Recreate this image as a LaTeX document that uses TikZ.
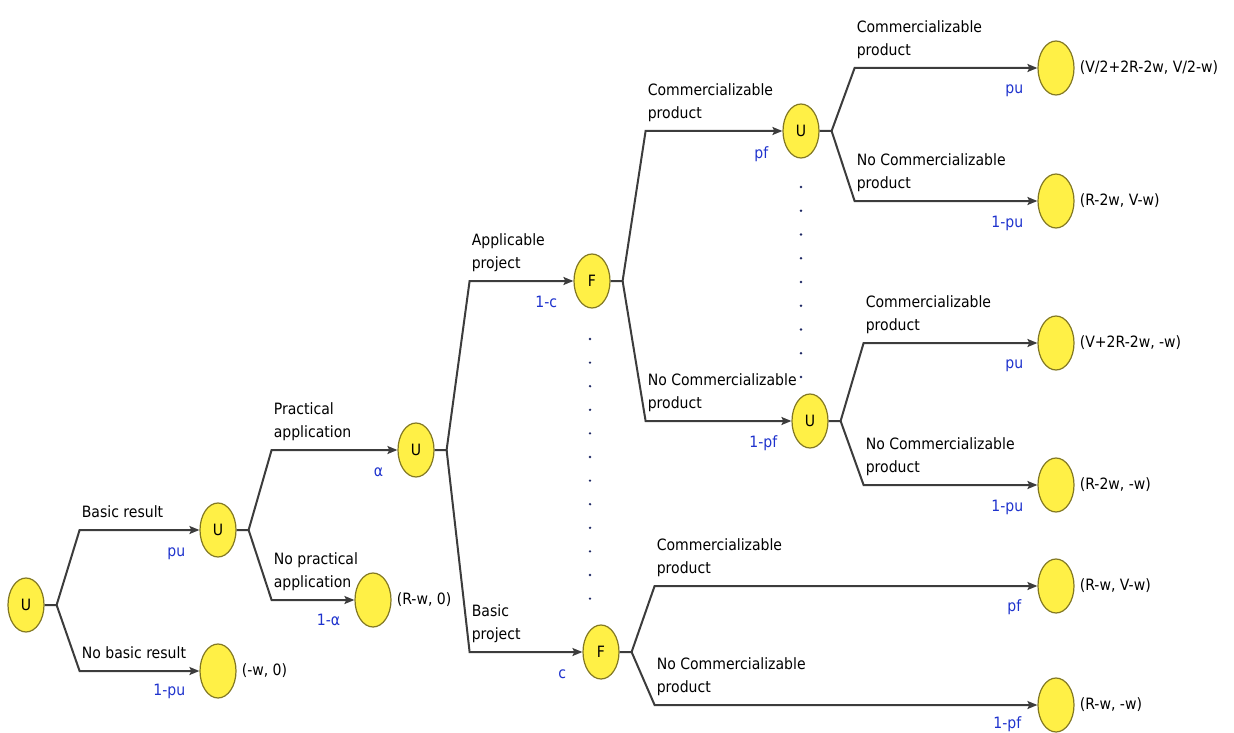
\documentclass[tikz,border=0pt]{standalone}
\usepackage{fontspec}
\setmainfont{DejaVu Sans}[FakeStretch=0.9]
\usetikzlibrary{arrows.meta,shapes.geometric}
\definecolor{nodefill}{RGB}{255,240,70}
\definecolor{nodeborder}{RGB}{130,120,35}
\definecolor{linecol}{RGB}{60,60,60}
\definecolor{problue}{RGB}{30,50,205}
\definecolor{dotcol}{RGB}{30,40,100}
\begin{document}
\begin{tikzpicture}[x=1pt,y=-1pt,
  font=\fontsize{15.6}{23}\selectfont,
  dnode/.style={ellipse,draw=nodeborder,fill=nodefill,line width=1.2pt,
    minimum width=36pt,minimum height=54pt,inner sep=0pt},
  edge/.style={draw=linecol,line width=2pt,
    -{Stealth[length=10pt,width=8pt,inset=2pt]}},
  lab/.style={anchor=south west,align=left,inner sep=0pt,
    execute at end node={\vphantom{p}}},
  prob/.style={anchor=base east,text=problue,inner sep=0pt},
  pay/.style={anchor=west,inner sep=0pt},
  dotmark/.style={fill=dotcol}]
\useasboundingbox (0,0) rectangle (1234,733);
% nodes
\node[dnode] (U0) at (26,605) {U};
\node[dnode] (U1) at (218,530) {U};
\node[dnode] (L1) at (218,671) {};
\node[dnode] (U2) at (416,450) {U};
\node[dnode] (L2) at (373,600) {};
\node[dnode] (F1) at (592,281) {F};
\node[dnode] (F2) at (601,652) {F};
\node[dnode] (U3) at (801,131) {U};
\node[dnode] (U4) at (810,421) {U};
\node[dnode] (L3) at (1056,68) {};
\node[dnode] (L4) at (1056,201) {};
\node[dnode] (L5) at (1056,343) {};
\node[dnode] (L6) at (1056,485) {};
\node[dnode] (L7) at (1056,586) {};
\node[dnode] (L8) at (1056,705) {};
% payoffs
\node[pay] (P1) at ([xshift=5pt]L1.east) {(-w, 0)};
\node[pay] (P2) at ([xshift=5pt]L2.east) {(R-w, 0)};
\node[pay] (P3) at ([xshift=5pt]L3.east) {(V/2+2R-2w, V/2-w)};
\node[pay] (P4) at ([xshift=5pt]L4.east) {(R-2w, V-w)};
\node[pay] (P5) at ([xshift=5pt]L5.east) {(V+2R-2w, -w)};
\node[pay] (P6) at ([xshift=5pt]L6.east) {(R-2w, -w)};
\node[pay] (P7) at ([xshift=5pt]L7.east) {(R-w, V-w)};
\node[pay] (P8) at ([xshift=5pt]L8.east) {(R-w, -w)};
% junction and branch coordinates
\foreach \n in {U0,U1,U2,F1,F2,U3,U4}{
  \coordinate (j\n) at ([xshift=12pt]\n.east);
  \coordinate (b\n) at ([xshift=35pt]\n.east);
}
% connectors
\draw[edge] (U0.east) -- (jU0) -- (bU0 |- U1) -- (U1.west);
\draw[edge] (jU0) -- (bU0 |- L1) -- (L1.west);
\draw[edge] (U1.east) -- (jU1) -- (bU1 |- U2) -- (U2.west);
\draw[edge] (jU1) -- (bU1 |- L2) -- (L2.west);
\draw[edge] (U2.east) -- (jU2) -- (bU2 |- F1) -- (F1.west);
\draw[edge] (jU2) -- (bU2 |- F2) -- (F2.west);
\draw[edge] (F1.east) -- (jF1) -- (bF1 |- U3) -- (U3.west);
\draw[edge] (jF1) -- (bF1 |- U4) -- (U4.west);
\draw[edge] (F2.east) -- (jF2) -- (bF2 |- L7) -- (L7.west);
\draw[edge] (jF2) -- (bF2 |- L8) -- (L8.west);
\draw[edge] (U3.east) -- (jU3) -- (bU3 |- L3) -- (L3.west);
\draw[edge] (jU3) -- (bU3 |- L4) -- (L4.west);
\draw[edge] (U4.east) -- (jU4) -- (bU4 |- L5) -- (L5.west);
\draw[edge] (jU4) -- (bU4 |- L6) -- (L6.west);
% branch labels
\path (bU0 |- U1) ++(2,-9.5) node[lab] {Basic result};
\path (bU0 |- L1) ++(2,-9.5) node[lab] {No basic result};
\path (bU1 |- U2) ++(2,-9.5) node[lab] {Practical\\application};
\path (bU1 |- L2) ++(2,-9.5) node[lab] {No practical\\application};
\path (bU2 |- F1) ++(2,-9.5) node[lab] {Applicable\\project};
\path (bU2 |- F2) ++(2,-9.5) node[lab] {Basic\\project};
\path (bF1 |- U3) ++(2,-9.5) node[lab] {Commercializable\\product};
\path (bF1 |- U4) ++(2,-9.5) node[lab] {No Commercializable\\product};
\path (bF2 |- L7) ++(2,-9.5) node[lab] {Commercializable\\product};
\path (bF2 |- L8) ++(2,-9.5) node[lab] {No Commercializable\\product};
\path (bU3 |- L3) ++(2,-9.5) node[lab] {Commercializable\\product};
\path (bU3 |- L4) ++(2,-9.5) node[lab] {No Commercializable\\product};
\path (bU4 |- L5) ++(2,-9.5) node[lab] {Commercializable\\product};
\path (bU4 |- L6) ++(2,-9.5) node[lab] {No Commercializable\\product};
% probabilities
\path (U1.west) ++(-14,26) node[prob] {pu};
\path (L1.west) ++(-14,24) node[prob] {1-pu};
\path (U2.west) ++(-14,26) node[prob] {α};
\path (L2.west) ++(-14,25) node[prob] {1-α};
\path (F1.west) ++(-16,26) node[prob] {1-c};
\path (F2.west) ++(-16,26) node[prob] {c};
\path (U3.west) ++(-14,28) node[prob] {pf};
\path (U4.west) ++(-14,26) node[prob] {1-pf};
\path (L3.west) ++(-14,26) node[prob] {pu};
\path (L4.west) ++(-14,26) node[prob] {1-pu};
\path (L5.west) ++(-14,25) node[prob] {pu};
\path (L6.west) ++(-14,26) node[prob] {1-pu};
\path (L7.west) ++(-16,25) node[prob] {pf};
\path (L8.west) ++(-16,23) node[prob] {1-pf};
% dotted separators
\foreach \k in {0,...,11}{\fill[dotmark] (590,339+23.6*\k) circle (1.3);}
\foreach \k in {0,...,8}{\fill[dotmark] (801,187+23.75*\k) circle (1.3);}
\end{tikzpicture}
\end{document}
